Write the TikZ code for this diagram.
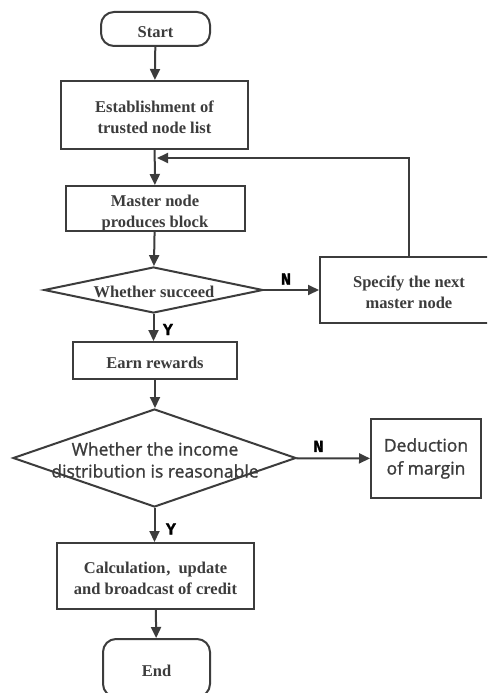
\documentclass[tikz,border=0pt]{standalone}
\usepackage{fontspec}
\setmainfont{Liberation Serif}
\newfontfamily\labelsans[FakeBold=1.2]{Open Sans}
\newfontfamily\yesno[FakeBold=1.5]{Liberation Mono}
\usetikzlibrary{arrows.meta,shapes.geometric}
\definecolor{ink}{HTML}{3C3C3C}
% box text sits a little below the geometric centre
\newcommand{\boxtext}[1]{\raisebox{-4pt}[\height][\depth]{\begin{tabular}{@{}c@{}}#1\end{tabular}}}
\begin{document}
\begin{tikzpicture}[x=1pt,y=-1pt,
  every node/.style={text=ink},
  flow/.style={draw=ink,line width=2pt,-{Triangle[length=11pt,width=10pt]}},
  boxshape/.style={draw=ink,line width=2pt,rectangle,inner sep=0pt,
    font=\bfseries\fontsize{16.5}{21}\selectfont,align=center},
  term/.style={boxshape,rounded corners=13pt},
  decision/.style={draw=ink,line width=2pt,diamond,inner sep=0pt},
  yn/.style={font=\yesno\bfseries\fontsize{17}{17}\selectfont,text=black}]
\clip (0,0) rectangle (487,693);
\fill[white] (0,0) rectangle (487,693);

% process steps
\node[term, minimum width=109pt, minimum height=34pt] (start) at (155.5,29) {\boxtext{Start}};
\node[boxshape, minimum width=187pt, minimum height=68pt] (estab) at (154.5,115)
  {\boxtext{Establishment of\\trusted node list}};
\node[boxshape, minimum width=179pt, minimum height=45pt] (master) at (155,208.5)
  {\boxtext{Master node\\produces block}};
\node[decision, minimum width=219pt, minimum height=46pt, aspect=4.7] (succ) at (153.5,290) {};
\node[font=\bfseries\fontsize{16.5}{18}\selectfont] at (154,292) {Whether succeed};
\node[boxshape, minimum width=178pt, minimum height=66pt] (spec) at (409,290)
  {\boxtext{Specify the next\\master node}};
\node[boxshape, minimum width=164pt, minimum height=37pt] (earn) at (155,360.5)
  {\boxtext{Earn rewards}};
\node[decision, minimum width=283pt, minimum height=98pt, aspect=2.9] (reason) at (154.5,458) {};
\node[font=\labelsans\fontsize{17.5}{22}\selectfont,align=center] at (155,460)
  {Whether the income\\distribution is reasonable};
\node[boxshape, minimum width=110pt, minimum height=79pt,
  font=\labelsans\fontsize{17.5}{23}\selectfont] (deduct) at (426,458.5) {Deduction\\of margin};
\node[boxshape, minimum width=197pt, minimum height=66pt] (calc) at (155.5,576)
  {\boxtext{Calculation\kern1pt,\kern8pt update\\and broadcast of credit}};
\node[term, minimum width=107pt, minimum height=58pt] (end) at (156.5,668) {\boxtext{End}};

% return point of the loop on the main line
\coordinate (loopin) at (157,158);

% connectors
\draw[flow] (start) -- (estab);
\draw[flow] (estab) -- (master);
\draw[flow] (master) -- (succ);
\draw[flow] (succ) -- node[yn, pos=0.4, above, yshift=1pt] {N} (spec);
\draw[flow] (succ.south) -- node[yn, right, xshift=5pt, yshift=-2pt] {Y} (succ.south |- earn.north);
\draw[flow] (spec.north -| 409,0) |- (loopin);
\draw[flow] (earn) -- (earn.south |- reason.north);
\draw[flow] (reason) -- node[yn, pos=0.3, above, yshift=2pt] {N} (deduct);
\draw[flow] (reason.south) -- node[yn, right, xshift=7pt, yshift=-4pt] {Y} (reason.south |- calc.north);
\draw[flow] (calc) -- (end);
\end{tikzpicture}
\end{document}
